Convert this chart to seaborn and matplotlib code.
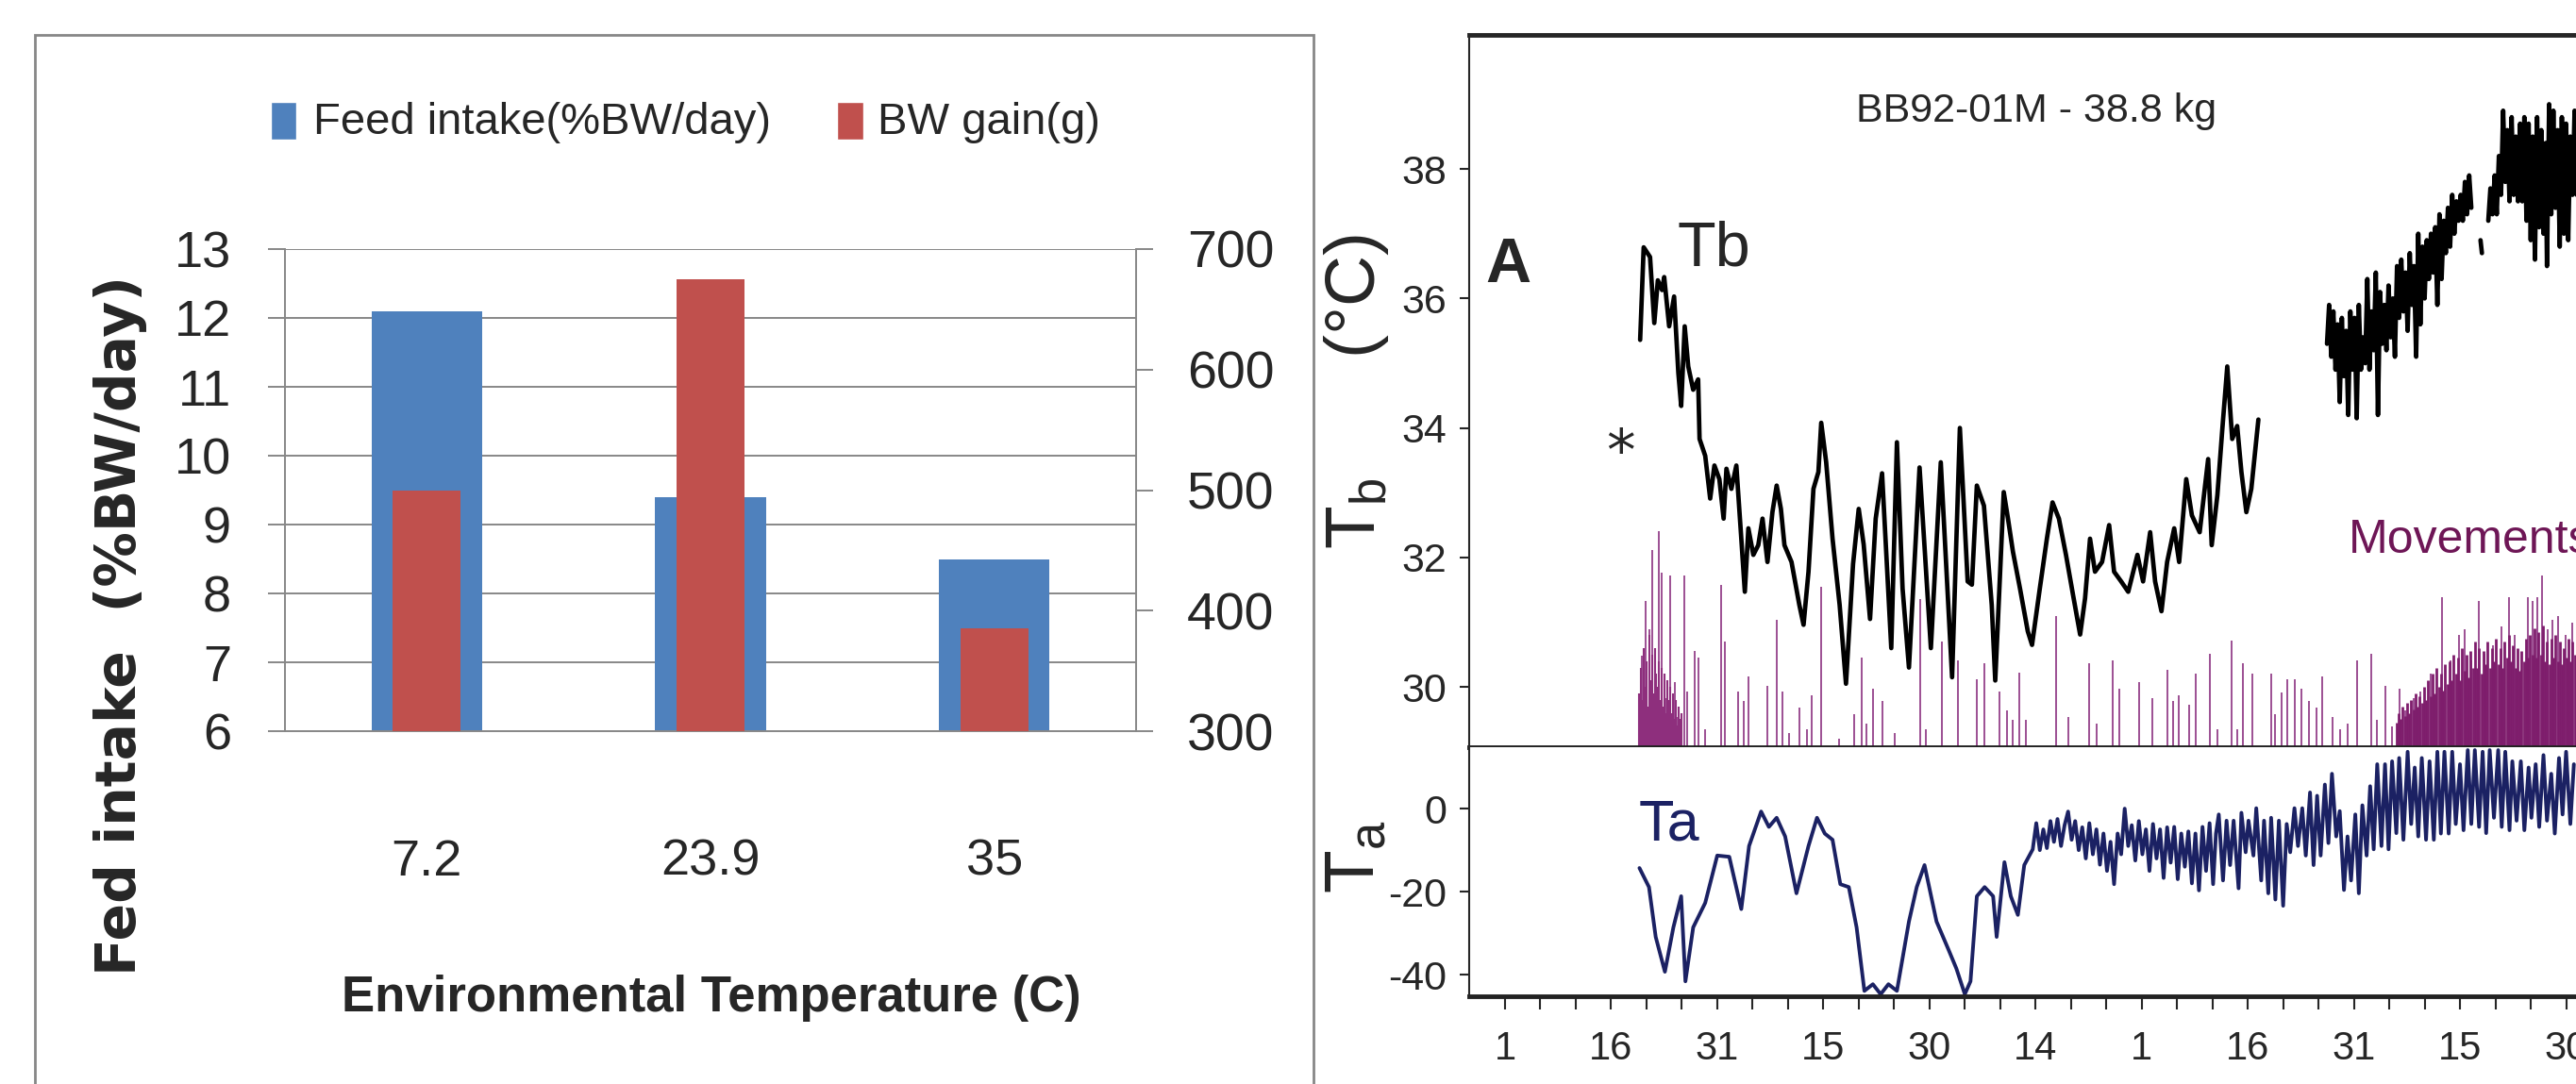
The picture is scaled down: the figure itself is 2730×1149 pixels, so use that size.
import numpy as np
import pandas as pd
import seaborn as sns
import matplotlib.pyplot as plt
from matplotlib import font_manager
from matplotlib.patches import Rectangle

# ---- left chart: feed intake and body weight gain ----
temps = ["7.2", "23.9", "35"]
feed_intake = [12.1, 9.4, 8.5]
bw_gain = [500, 675, 385]

# ---- right chart: body temperature trace ----
tb1_day = [19.1, 19.6, 20.5, 21.1, 21.6, 22.2, 22.5, 23.2, 23.9, 24.5, 24.9, 25.4, 25.9, 26.6,
           27.3, 27.5, 28.3, 29.0, 29.6, 30.3, 30.9, 31.3, 32.0, 32.7, 33.4, 33.9, 34.4, 35.1,
           35.8, 36.4, 37.1, 37.8, 38.4, 39.0, 39.5, 40.5, 41.6, 42.2, 42.9, 43.6, 44.3, 44.7,
           45.4, 46.3, 47.3, 48.2, 49.2, 50.0, 50.7, 51.6, 52.4, 53.3, 54.6, 55.4, 56.2, 57.1,
           58.6, 60.2, 61.6, 63.2, 64.3, 65.4, 66.0, 66.7, 67.7, 68.8, 69.3, 70.5, 71.1, 71.8,
           72.8, 73.9, 74.5, 75.6, 76.6, 77.4, 78.3, 79.3, 80.3, 81.3, 82.0, 82.7, 83.4, 84.4,
           85.4, 86.1, 87.1, 88.1, 89.4, 90.2, 91.2, 91.9, 92.8, 93.6, 94.6, 95.3, 96.3, 97.1,
           98.2, 99.4, 99.9, 100.7, 101.4, 102.1, 102.8, 103.5, 104.1, 104.8, 105.5, 106.5]
tb1 = [35.36, 36.79, 36.64, 35.62, 36.28, 36.13, 36.33, 35.57, 36.03, 34.85, 34.34, 35.57, 34.95, 34.59,
       34.75, 33.83, 33.57, 32.91, 33.42, 33.21, 32.60, 33.37, 33.06, 33.42, 32.29, 31.47, 32.45, 32.04,
       32.19, 32.60, 31.93, 32.70, 33.11, 32.75, 32.19, 31.93, 31.27, 30.96, 31.78, 33.06, 33.32, 34.08,
       33.47, 32.29, 31.27, 30.05, 31.90, 32.75, 32.20, 31.05, 32.60, 33.30, 30.60, 33.78, 31.52, 30.30,
       33.39, 30.60, 33.47, 30.15, 34.00, 31.63, 31.58, 33.11, 32.80, 31.27, 30.10, 33.01, 32.60, 32.09,
       31.52, 30.86, 30.65, 31.52, 32.29, 32.85, 32.60, 32.04, 31.42, 30.81, 31.37, 32.29, 31.78, 31.93,
       32.50, 31.78, 31.63, 31.47, 32.04, 31.63, 32.39, 31.63, 31.17, 31.93, 32.45, 31.93, 33.21, 32.65,
       32.39, 33.52, 32.19, 32.96, 33.98, 34.95, 33.83, 34.03, 33.32, 32.70, 33.06, 34.13]

tb2_day = [116.2, 116.5, 116.8, 117.1, 117.4, 117.7, 118.0, 118.3, 118.6, 118.9, 119.2, 119.5, 119.8,
           120.1, 120.4, 120.7, 121.0, 121.3, 121.6, 121.9, 122.2, 122.5, 122.8, 123.1, 123.4, 123.7,
           124.0, 124.3, 124.6, 124.9, 125.2, 125.5, 125.8, 126.1, 126.4, 126.7, 127.0, 127.3, 127.6,
           127.9, 128.2, 128.5, 128.8, 129.1, 129.4, 129.7, 130.0, 130.3, 130.6, 130.9, 131.2, 131.5,
           131.8, 132.1, 132.4, 132.7, 133.0, 133.3, 133.6, 133.9, 134.2, 134.5, 134.8, 135.1, 135.4,
           135.7, 136.0, 136.3, 136.6]
tb2 = [35.3, 35.9, 35.1, 35.8, 34.9, 35.6, 34.4, 35.7, 34.8, 35.5, 34.2, 35.8, 34.9,
       35.7, 34.15, 35.9, 34.9, 35.4, 35.0, 36.3, 34.9, 35.8, 35.2, 36.4, 34.2, 36.1,
       35.3, 35.9, 35.2, 36.2, 35.4, 36.0, 35.1, 36.5, 35.7, 36.6, 35.8, 36.4, 35.5,
       36.7, 35.9, 36.5, 35.1, 37.0, 35.6, 36.8, 36.0, 36.9, 36.3, 37.0, 36.4, 37.1,
       35.9, 37.3, 36.3, 37.2, 36.7, 37.4, 36.8, 37.6, 37.0, 37.5, 37.2, 37.6, 37.2,
       37.8, 37.3, 37.9, 37.4]
tb3_day = [137.9, 138.1]
tb3 = [36.9, 36.7]
tb4_day = [139.0, 139.3, 139.6, 139.9, 140.2, 140.5, 140.8, 141.1, 141.4, 141.7, 142.0, 142.3, 142.6,
           142.9, 143.2, 143.5, 143.8, 144.1, 144.4, 144.7, 145.0, 145.3, 145.6, 145.9, 146.2, 146.5,
           146.8, 147.1, 147.3, 147.6, 147.9, 148.2, 148.5, 148.8, 149.1, 149.4, 149.7, 150.0, 150.3,
           150.6, 150.9, 151.2, 151.5]
tb4 = [37.2, 37.7, 37.3, 37.9, 37.3, 38.2, 37.6, 38.9, 37.8, 38.6, 37.5, 38.8, 37.6,
       38.5, 37.5, 38.7, 37.5, 38.8, 37.2, 38.7, 36.9, 38.5, 36.6, 38.8, 37.1, 38.6,
       37.0, 38.4, 36.5, 39.0, 37.3, 38.9, 37.4, 38.6, 36.8, 38.8, 37.0, 38.7, 36.9,
       38.5, 37.6, 38.9, 37.6]

# movement bars (top of each tick, in Tb units)
mv_day = [19.3, 19.9, 20.4, 20.8, 21.2, 21.8, 22.2, 22.8, 23.3, 24.0, 24.4, 25.3, 25.8, 26.8, 27.4,
          28.3, 30.5, 31.1, 32.9, 33.8, 34.4, 37.1, 38.4, 39.2, 40.2, 41.6, 42.7, 43.4, 44.7, 47.2,
          49.3, 50.4, 51.1, 52.0, 53.3, 55.1, 58.7, 59.5, 61.8, 64.0, 66.7, 67.8, 69.9, 70.9, 71.8,
          72.7, 73.6, 77.9, 79.6, 82.6, 83.6, 85.9, 86.8, 89.7, 91.5, 93.7, 94.4, 95.3, 96.7, 97.7,
          99.7, 100.7, 102.7, 103.5, 104.3, 105.6, 108.3, 108.8, 109.8, 110.6, 111.6, 112.6, 113.7,
          114.7, 115.5, 117.0, 118.0, 119.1, 120.5, 122.4, 123.3, 124.5, 125.4, 126.4, 127.3, 128.5,
          129.4, 130.8, 132.4, 133.6, 134.8, 135.7, 136.6, 137.7, 138.5, 139.7, 140.9, 141.9, 142.7,
          143.7, 144.6, 145.3, 145.9, 146.6, 147.4, 148.1, 148.9, 149.9, 150.9]
mv_top = [30.48, 31.33, 30.89, 32.11, 30.22, 32.40, 31.77, 29.83, 31.72, 30.07, 29.53, 31.72, 29.93, 30.55, 30.46,
          29.34, 31.57, 30.70, 29.93, 29.78, 30.16, 30.02, 31.04, 29.93, 29.29, 29.68, 29.34, 29.87, 31.55, 29.20,
          29.58, 30.46, 29.44, 29.97, 29.78, 29.29, 31.36, 29.34, 30.70, 30.41, 30.12, 30.36, 29.93, 29.64, 29.49,
          30.22, 29.49, 31.09, 29.53, 30.36, 29.44, 30.41, 29.97, 30.07, 29.83, 30.26, 29.78, 29.87, 29.73, 30.21,
          30.51, 29.34, 30.72, 29.34, 30.36, 30.21, 30.21, 29.58, 29.92, 30.12, 30.12, 29.97, 29.78,
          29.68, 30.16, 29.53, 29.34, 29.44, 30.41, 30.51, 29.49, 30.02, 29.39, 29.97, 29.64, 29.83,
          29.93, 30.21, 31.38, 30.41, 30.80, 30.89, 30.41, 31.33, 30.51, 30.65, 30.94, 31.38, 30.80,
          30.26, 31.38, 31.33, 31.38, 31.72, 30.89, 31.04, 31.09, 30.80, 30.99]

# dense short movement ticks at start and end of the record
mv_early_day = np.round(np.arange(19.0, 25.05, 0.2), 1)
mv_early = [29.9, 30.3, 29.8, 30.6, 30.0, 30.4, 29.7, 30.8, 30.1, 30.5, 29.9, 30.6, 30.2, 30.0, 30.4, 29.8,
            30.3, 29.7, 30.2, 29.6, 30.1, 29.8, 30.0, 29.6, 29.9, 29.5, 29.8, 29.4, 29.7, 29.5, 29.6]
mv_late_day = np.round(np.arange(126.0, 151.25, 0.3), 1)
mv_late = [29.45, 29.6, 29.5, 29.7, 29.55, 29.75, 29.6, 29.8, 29.65, 29.9, 29.7, 29.85, 29.75, 30.0, 29.8,
           30.1, 29.85, 30.2, 29.9, 30.3, 30.0, 30.2, 29.95, 30.35, 30.05, 30.4, 30.1, 30.5, 30.2, 30.45,
           30.1, 30.6, 30.25, 30.5, 30.15, 30.55, 30.3, 30.7, 30.3, 30.6, 30.2, 30.55, 30.35, 30.7, 30.3,
           30.6, 30.4, 30.75, 30.35, 30.6, 30.3, 30.7, 30.45, 30.8, 30.4, 30.65, 30.3, 30.6, 30.25, 30.55,
           30.4, 30.75, 30.45, 30.8, 30.5, 30.9, 30.45, 30.85, 30.5, 30.95, 30.4, 30.7, 30.35, 30.75, 30.45,
           30.8, 30.4, 30.7, 30.35, 30.6, 30.45, 30.75, 30.4, 30.7, 30.5]

# ambient temperature trace
ta_day = [19.0, 20.35, 21.3, 22.6, 23.8, 24.9, 25.5, 26.6, 28.3, 30.0, 31.7, 33.4, 34.5, 36.2, 37.3,
          38.4, 39.6, 41.2, 42.9, 44.1, 45.2, 46.3, 47.4, 48.6, 49.7, 50.8, 52.0, 53.1, 54.2, 55.4,
          57.1, 58.2, 59.3, 61.0, 62.7, 63.8, 65.0, 65.8, 66.7, 67.8, 69.0, 69.5, 70.6, 71.5, 72.5,
          73.4, 74.6, 75.1, 75.6, 76.1, 76.6, 77.1, 77.6, 78.1, 78.6, 79.1, 79.6, 80.1, 80.6, 81.1,
          81.6, 82.1, 82.6, 83.1, 83.6, 84.1, 84.6, 85.1, 85.6, 86.1, 86.6, 87.1, 87.6, 88.1, 88.6,
          89.1, 89.6, 90.1, 90.6, 91.1, 91.6, 92.1, 92.6, 93.1, 93.6, 94.1, 94.6, 95.1, 95.6, 96.1,
          96.6, 97.1, 97.6, 98.1, 98.6, 99.1, 99.6, 100.1, 100.5,
          100.9, 101.5, 102.0, 102.5, 103.0, 103.7, 104.1, 104.7, 105.1, 105.8, 106.2, 106.9, 107.3,
          107.9, 108.3, 108.9, 109.4, 110.0, 110.5, 111.0, 111.6, 112.1, 112.7, 113.2, 113.8, 114.3,
          114.8, 115.3, 115.9, 116.4, 116.9, 117.5, 118.0, 118.6, 119.1, 119.6, 120.2, 120.7, 121.2,
          121.8, 122.3, 122.8, 123.3, 123.9, 124.4, 124.9, 125.4, 126.0, 126.4, 127.0, 127.6, 128.1,
          128.6, 129.1, 129.6, 130.2, 130.7, 131.3, 131.8, 132.3, 132.8, 133.4, 133.9, 134.4, 135.0,
          135.5, 136.1, 136.6, 137.1, 137.7, 138.2, 138.7, 139.2, 139.8, 140.4, 140.9, 141.4, 142.0,
          142.4, 143.0, 143.6, 144.1, 144.7, 145.1, 145.7, 146.2, 146.8, 147.3, 147.9, 148.4, 149.0,
          149.5, 150.0, 150.6, 151.1]
ta = [-14.3, -18.9, -30.9, -39.3, -28.6, -21.1, -41.6, -28.6, -22.7, -11.3, -11.6, -24.2, -9.0, -0.7, -4.4,
      -2.2, -6.7, -20.4, -9.0, -2.2, -6.0, -7.5, -18.2, -18.9, -28.6, -43.9, -42.3, -44.7, -42.3, -43.9,
      -27.2, -18.9, -13.6, -27.2, -34.0, -38.5, -44.7, -41.6, -21.1, -18.9, -21.1, -30.9, -12.9, -21.1, -25.6,
      -13.6, -9.8, -3.5, -10.0, -5.0, -9.5, -3.0, -8.0, -2.5, -9.0, -4.0, -0.7, -7.5, -3.0, -10.0,
      -4.5, -12.0, -3.5, -11.0, -5.0, -13.5, -6.0, -15.0, -8.0, -18.2, -6.0, -11.0, 0.0, -9.0, -4.0,
      -12.5, -3.0, -11.0, -5.0, -15.0, -3.7, -12.0, -5.0, -16.7, -4.5, -13.0, -4.4, -17.0, -6.0, -14.0,
      -5.5, -18.0, -6.0, -19.7, -4.4, -15.0, -3.5, -18.2, -6.0,
      -1.4, -17.3, -2.9, -13.6, -2.9, -19.2, -1.0, -10.5, -2.9, -11.3, 0.1, -17.3, -2.9,
      -20.4, -2.2, -21.9, -2.9, -23.4, -3.7, -10.5, 0.1, -9.0, 0.1, -11.3, 3.9, -13.6,
      3.1, -11.3, 5.8, -8.3, 8.4, -6.7, -0.6, -19.6, -6.7, -17.3, -1.4, -20.4, 0.8,
      -11.3, 5.4, -9.8, 10.7, -9.0, 10.7, -9.8, 11.4, -5.9, 12.2, -7.5, 13.7, -3.7,
      9.9, -6.7, 12.2, -7.5, 11.4, -7.5, 13.7, -6.0, 13.7, -6.0, 13.7, -3.7, 10.7,
      -5.2, 14.1, -3.7, 14.1, -4.4, 13.7, -5.9, 14.1, -2.2, 14.1, -4.4, 13.7, -5.2,
      11.4, -2.9, 11.4, -5.2, 9.9, -2.2, 10.7, -4.4, 12.9, -2.9, 8.4, -6.0, 12.2,
      -1.4, 13.7, -3.7, 10.7]

day_ticks = [0, 15, 30, 45, 60, 75, 90, 105, 120, 135, 150]
day_labels = ["1", "16", "31", "15", "30", "14", "1", "16", "31", "15", "30"]

sns.set_style("white")
names = {f.name for f in font_manager.fontManager.ttflist}
base_font = "Liberation Sans" if "Liberation Sans" in names else "DejaVu Sans"
plt.rcParams["font.family"] = [base_font, "DejaVu Sans"]

W, H = 2730, 1149
fig = plt.figure(figsize=(27.3, 11.49), dpi=100)
grey = "#878787"

# ---------------- left chart ----------------
ax = fig.add_axes([302 / W, 1 - 775 / H, 902 / W, 511 / H])
bar_df = pd.DataFrame({"temp": temps, "feed": feed_intake, "gain": bw_gain})
sns.barplot(data=bar_df, x="temp", y="feed", color="#4F81BD", saturation=1, width=0.39,
            linewidth=0, ax=ax)
ax.set_ylim(6, 13)
ax.set_yticks(range(6, 14))
ax.grid(axis="y", color=grey, lw=1.4)
ax.set_axisbelow(True)
for s in ["top", "right"]:
    ax.spines[s].set_visible(False)
for s in ["left", "bottom"]:
    ax.spines[s].set_color(grey)
    ax.spines[s].set_linewidth(1.4)
ax.tick_params(axis="y", length=13, width=1.4, color=grey, labelsize=39, pad=28)
ax.tick_params(axis="x", length=0, labelsize=39, pad=82)
ax.set_xlabel("")
ax.set_ylabel("")

ax2 = ax.twinx()
sns.barplot(data=bar_df, x="temp", y="gain", color="#C0504D", saturation=1, width=0.24,
            linewidth=0, ax=ax2)
ax2.set_ylim(300, 700)
ax2.set_yticks([300, 400, 500, 600, 700])
for s in ["top", "left", "bottom"]:
    ax2.spines[s].set_visible(False)
ax2.spines["right"].set_color(grey)
ax2.spines["right"].set_linewidth(1.4)
ax2.tick_params(axis="y", length=13, width=1.4, color=grey, labelsize=40, pad=26)
ax2.set_ylabel("")
ax2.set_xlabel("")

# frame around the left chart
fig.add_artist(Rectangle((37 / W, -0.05), (1392 - 37) / W, 1.05 - 37 / H,
                         transform=fig.transFigure, fill=False, ec=grey, lw=2))

# legend
fig.add_artist(Rectangle((287 / W, 1 - 148 / H), 27 / W, 40 / H, fc="#4F81BD", transform=fig.transFigure))
fig.text(332 / W, 1 - 130 / H, "Feed intake(%BW/day)", va="center", fontsize=34)
fig.add_artist(Rectangle((887 / W, 1 - 148 / H), 28 / W, 40 / H, fc="#C0504D", transform=fig.transFigure))
fig.text(930 / W, 1 - 130 / H, "BW gain(g)", va="center", fontsize=34)

fig.text(128 / W, 1 - 663 / H, "Fed intake  (%BW/day)", rotation=90, ha="center", va="center",
         fontsize=42, fontweight="bold", family="DejaVu Sans")
fig.text(754 / W, 1 - 1058 / H, "Environmental Temperature (C)", ha="center", va="center",
         fontsize=38, fontweight="bold")

# ---------------- right chart ----------------
ax_tb = fig.add_axes([1557 / W, 1 - 792 / H, (W - 1557) / W, 755 / H])
ax_ta = fig.add_axes([1557 / W, 1 - 1056 / H, (W - 1557) / W, 264 / H], sharex=ax_tb)

ax_tb.vlines(mv_day, 29.07, mv_top, color="#94418A", lw=1.3)
ax_tb.vlines(mv_early_day, 29.07, mv_early, color="#8E2F7D", lw=1.5)
ax_tb.vlines(mv_late_day, 29.07, mv_late, color="#7E1D6C", lw=2.0)

for d, v in [(tb1_day, tb1), (tb2_day, tb2), (tb3_day, tb3), (tb4_day, tb4)]:
    sns.lineplot(x=d, y=v, color="black", lw=3.4, ax=ax_tb, estimator=None, sort=False)
sns.lineplot(x=ta_day, y=ta, color="#1B2163", lw=2.8, ax=ax_ta, estimator=None, sort=False)

ax_tb.set_xlim(-5.07, 151.4)
ax_tb.set_ylim(29.07, 40.07)
ax_tb.set_yticks([30, 32, 34, 36, 38])
ax_ta.set_ylim(-45.2, 14.8)
ax_ta.set_yticks([-40, -20, 0])
ax_ta.set_yticklabels(["-40", "-20", "0"])
ax_ta.set_xticks(day_ticks)
ax_ta.set_xticklabels(day_labels)
ax_ta.set_xticks(range(0, 155, 5), minor=True)

for a in (ax_tb, ax_ta):
    a.spines["right"].set_visible(False)
    a.spines["left"].set_linewidth(1.5)
    a.spines["bottom"].set_linewidth(3.5)
    a.spines["bottom"].set_color("#222222")
    a.tick_params(axis="y", length=7, width=1.5, labelsize=31, pad=10, left=True)
    a.set_xlabel("")
    a.set_ylabel("")
ax_tb.spines["top"].set_linewidth(3.5)
ax_ta.spines["top"].set_visible(False)
ax_tb.tick_params(axis="x", bottom=False, labelbottom=False)
ax_ta.tick_params(axis="x", which="both", bottom=True, length=10, width=1.5, labelsize=30, pad=16)

ax_tb.text(75.1, 38.89, "BB92-01M - 38.8 kg", ha="center", va="center", fontsize=31)
ax_tb.text(0.4, 36.5, "A", ha="center", va="center", fontsize=48, fontweight="bold")
ax_tb.text(24.3, 36.75, "Tb", ha="left", va="center", fontsize=48)
ax_tb.text(16.4, 33.6, "*", ha="center", va="center", fontsize=44, family="DejaVu Sans")
ax_tb.text(119.3, 32.26, "Movements", ha="left", va="center", fontsize=36, color="#6E1656")
ax_ta.text(18.9, -4.1, "Ta", ha="left", va="center", fontsize=44, color="#1B2163")

fig.text(1437 / W, 1 - 415 / H, r"T$_{\mathregular{b}}$      (°C)", rotation=90, ha="center", va="center",
         fontsize=54)
fig.text(1437 / W, 1 - 908 / H, r"T$_{\mathregular{a}}$", rotation=90, ha="center", va="center",
         fontsize=54)

fig.savefig("out.png", dpi=100)
